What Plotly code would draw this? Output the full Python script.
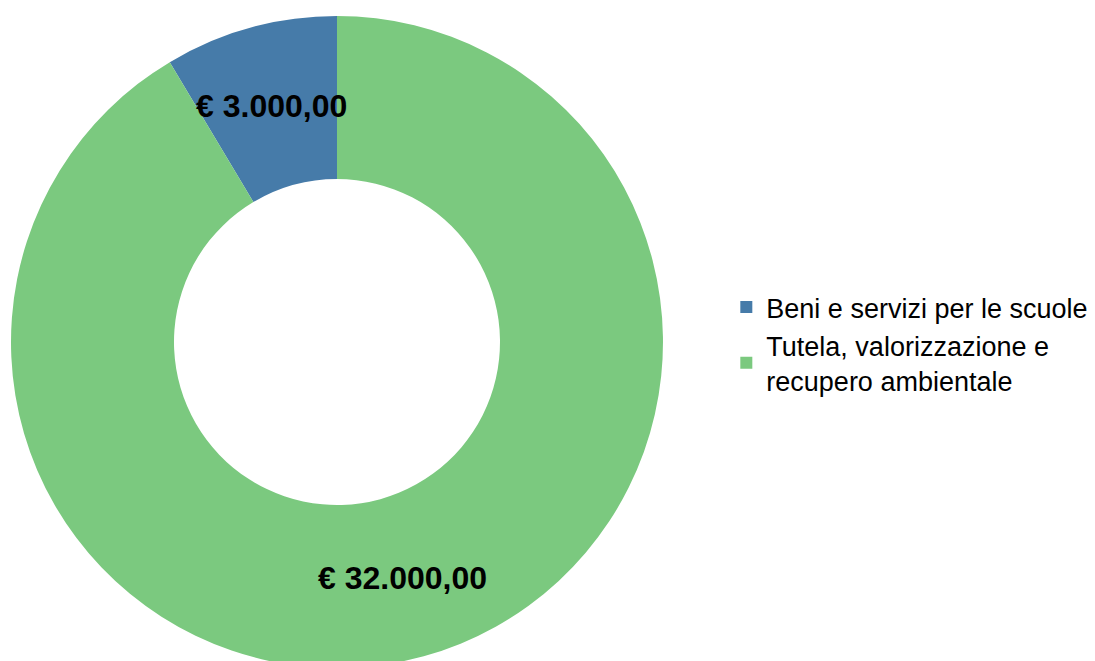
import math
import plotly.graph_objects as go

categories = ["Beni e servizi per le scuole", "Tutela, valorizzazione e<br>recupero ambientale"]
values = [3000, 32000]
colors = ["#467ba9", "#7bc97f"]
label_texts = ["€ 3.000,00", "€ 32.000,00"]

W, H = 1095, 661
MT, MB = 8, 1
DOM_X = [0.0027, 0.5982]
HOLE = 0.5
total = sum(values)

fig = go.Figure(go.Pie(
    labels=categories,
    values=values,
    hole=HOLE,
    sort=False,
    direction="clockwise",
    rotation=-360 * values[0] / total,
    marker=dict(colors=colors, line=dict(width=0)),
    textinfo="none",
    domain=dict(x=DOM_X, y=[0, 1]),
    hoverinfo="label+value",
))

# value labels at the mid-radius of each slice (first slice sits left of 12 o'clock)
ph = H - MT - MB
cx = (DOM_X[0] + DOM_X[1]) / 2 * W
cy = ph / 2
r = min((DOM_X[1] - DOM_X[0]) * W, ph) / 2
rm = r * (1 + HOLE) / 2
cum = 0
annotations = []
for v, t in zip(values, label_texts):
    th = 2 * math.pi * (cum + v / 2) / total
    cum += v
    px = cx - rm * math.sin(th)
    py = cy + rm * math.cos(th)
    annotations.append(dict(
        x=px / W, y=py / ph, xref="paper", yref="paper",
        text=t, showarrow=False, xanchor="center", yanchor="middle",
        font=dict(family="Liberation Sans", size=32, color="black", weight="bold"),
    ))

fig.update_layout(
    width=W, height=H,
    margin=dict(l=0, r=0, t=MT, b=MB),
    paper_bgcolor="white",
    plot_bgcolor="white",
    font=dict(family="Liberation Sans", size=27, color="black"),
    annotations=annotations,
    legend=dict(x=0.656, y=0.497, xanchor="left", yanchor="middle",
                font=dict(size=27), tracegroupgap=0, itemwidth=30),
)

fig.write_html("out.html")
